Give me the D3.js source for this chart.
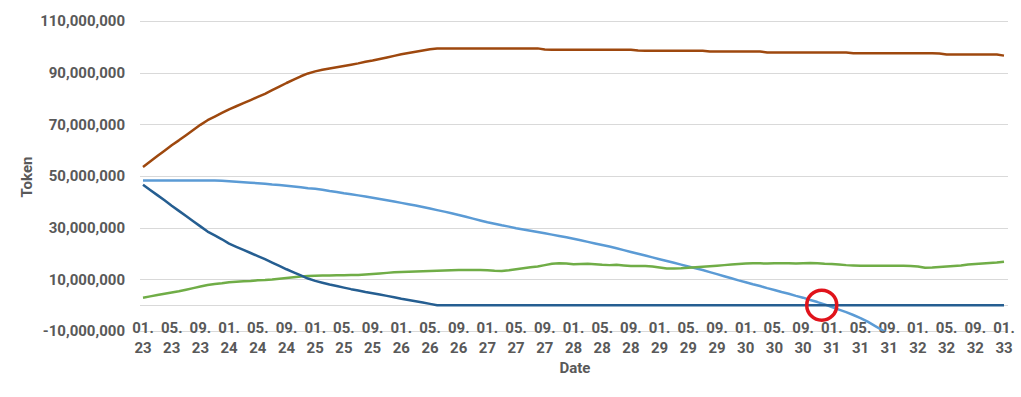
<!DOCTYPE html>
<html>
<head>
<meta charset="utf-8">
<script src="https://cdn.jsdelivr.net/npm/d3@7"></script>
<style>
  body { margin: 0; background: #fff; }
  svg { display: block; font-family: Roboto, "Liberation Sans", sans-serif; }
  .tick text { fill: #595959; font-weight: bold; font-size: 15px; font-family: Roboto, "Liberation Sans", sans-serif; }
</style>
</head>
<body>
<svg width="1021" height="397"></svg>
<script>
// monthly points, 01.2023 -> 01.2033 (values in millions of tokens)
var startMonth = new Date(2023, 0, 1);
var endMonth = new Date(2033, 1, 1);
var months = d3.timeMonth.range(startMonth, endMonth);

var yTicks = [-10e6, 10e6, 30e6, 50e6, 70e6, 90e6, 110e6];

var orangeSeries = [
  53.5, 55.6, 57.7, 59.8, 61.9, 63.8, 65.8, 67.8, 69.8, 71.6, 73.0, 74.4,
  75.8, 77.0, 78.2, 79.4, 80.6, 81.8, 83.2, 84.6, 86.0, 87.3, 88.6, 89.7,
  90.5, 91.1, 91.6, 92.1, 92.6, 93.1, 93.6, 94.2, 94.7, 95.3, 95.9, 96.5,
  97.1, 97.6, 98.1, 98.6, 99.1, 99.4, 99.4, 99.4, 99.4, 99.4, 99.4, 99.4,
  99.4, 99.4, 99.4, 99.4, 99.4, 99.4, 99.4, 99.4, 99.0, 98.9, 98.9, 98.9,
  98.9, 98.9, 98.9, 98.9, 98.9, 98.9, 98.9, 98.9, 98.9, 98.6, 98.5, 98.5,
  98.5, 98.5, 98.5, 98.5, 98.5, 98.5, 98.5, 98.2, 98.2, 98.2, 98.2, 98.2,
  98.2, 98.2, 98.2, 97.8, 97.8, 97.8, 97.8, 97.8, 97.8, 97.8, 97.8, 97.8,
  97.8, 97.8, 97.8, 97.5, 97.5, 97.5, 97.5, 97.5, 97.5, 97.5, 97.5, 97.5,
  97.5, 97.5, 97.5, 97.4, 97.0, 97.0, 97.0, 97.0, 97.0, 97.0, 97.0, 97.0,
  96.6
];

var lightBlueSeries = [
  48.3, 48.3, 48.3, 48.3, 48.3, 48.3, 48.3, 48.3, 48.3, 48.3, 48.3, 48.2,
  48.0, 47.8, 47.6, 47.4, 47.2, 47.0, 46.7, 46.5, 46.2, 45.9, 45.6, 45.3,
  45.1, 44.7, 44.2, 43.8, 43.3, 42.9, 42.5, 42.1, 41.6, 41.1, 40.6, 40.1,
  39.6, 39.1, 38.6, 38.0, 37.4, 36.8, 36.2, 35.6, 34.9, 34.2, 33.5, 32.8,
  32.1, 31.5, 30.9, 30.4, 29.8, 29.3, 28.8, 28.3, 27.8, 27.3, 26.8, 26.3,
  25.7, 25.1, 24.5, 23.9, 23.3, 22.7, 22.0, 21.3, 20.6, 19.9, 19.2, 18.5,
  17.8, 17.1, 16.4, 15.7, 15.0, 14.3, 13.6, 12.8, 12.0, 11.2, 10.4, 9.6,
  8.9, 8.1, 7.4, 6.6, 5.9, 5.1, 4.4, 3.6, 2.9, 2.0, 1.2, 0.3,
  -0.7, -1.7, -2.7, -3.8, -5.0, -6.4, -8.0, -9.6, -11.2, null, null, null,
  null, null, null, null, null, null, null, null, null, null, null, null,
  null
];

var darkBlueSeries = [
  46.6, 44.6, 42.6, 40.6, 38.5, 36.5, 34.5, 32.5, 30.5, 28.5, 27.0, 25.5,
  23.8, 22.6, 21.4, 20.2, 19.0, 17.8, 16.5, 15.2, 13.9, 12.7, 11.5, 10.3,
  9.4, 8.7, 8.0, 7.4, 6.8, 6.2, 5.7, 5.1, 4.6, 4.1, 3.6, 3.1,
  2.5, 2.0, 1.5, 1.0, 0.5, 0, 0, 0, 0, 0, 0, 0,
  0, 0, 0, 0, 0, 0, 0, 0, 0, 0, 0, 0,
  0, 0, 0, 0, 0, 0, 0, 0, 0, 0, 0, 0,
  0, 0, 0, 0, 0, 0, 0, 0, 0, 0, 0, 0,
  0, 0, 0, 0, 0, 0, 0, 0, 0, 0, 0, 0,
  0, 0, 0, 0, 0, 0, 0, 0, 0, 0, 0, 0,
  0, 0, 0, 0, 0, 0, 0, 0, 0, 0, 0, 0,
  0
];

var greenSeries = [
  2.9, 3.4, 3.9, 4.4, 4.9, 5.4, 6.0, 6.6, 7.2, 7.8, 8.2, 8.5,
  8.9, 9.1, 9.3, 9.4, 9.6, 9.7, 9.9, 10.2, 10.5, 10.8, 11.1, 11.3,
  11.4, 11.5, 11.5, 11.6, 11.6, 11.7, 11.7, 11.9, 12.1, 12.3, 12.5, 12.7,
  12.8, 12.9, 13.0, 13.1, 13.2, 13.3, 13.4, 13.5, 13.6, 13.6, 13.6, 13.6,
  13.5, 13.3, 13.2, 13.5, 13.9, 14.3, 14.7, 15.0, 15.5, 16.0, 16.2, 16.1,
  15.8, 15.9, 16.0, 15.8, 15.6, 15.5, 15.6, 15.4, 15.2, 15.2, 15.2, 15.0,
  14.6, 14.2, 14.2, 14.3, 14.5, 14.7, 14.9, 15.1, 15.3, 15.5, 15.7, 15.9,
  16.1, 16.2, 16.2, 16.1, 16.2, 16.2, 16.2, 16.1, 16.2, 16.3, 16.2, 16.0,
  15.9, 15.7, 15.5, 15.4, 15.3, 15.3, 15.3, 15.3, 15.3, 15.3, 15.3, 15.2,
  15.0, 14.5, 14.6, 14.8, 15.0, 15.2, 15.4, 15.7, 15.9, 16.1, 16.3, 16.5,
  16.8
];

var series = [
  { name: "orange", values: orangeSeries, color: "#9e480e" },
  { name: "lightBlue", values: lightBlueSeries, color: "#5b9bd5" },
  { name: "green", values: greenSeries, color: "#70ad47" },
  { name: "darkBlue", values: darkBlueSeries, color: "#255e91" }
];

// red marker where the light blue line crosses zero
var markerMonth = 94.6;

var svg = d3.select("svg");

var x = d3.scaleLinear().domain([0, months.length - 1]).range([143, 1004]);
var y = d3.scaleLinear().domain([-10e6, 110e6]).range([331, 21]);

svg.append("defs").append("clipPath")
  .attr("id", "plot-clip")
  .append("rect")
  .attr("x", 130).attr("y", 21)
  .attr("width", 890).attr("height", 310);

// gridlines (+ the horizontal axis line at zero)
svg.append("g")
  .attr("class", "grid")
  .selectAll("line")
  .data(yTicks.concat([0]))
  .enter()
  .append("line")
  .attr("x1", 140)
  .attr("x2", 1008)
  .attr("y1", d => Math.round(y(d)) + 0.5)
  .attr("y2", d => Math.round(y(d)) + 0.5)
  .attr("stroke", "#d9d9d9")
  .attr("stroke-width", 1);

// y axis labels
var yAxis = svg.append("g")
  .attr("transform", "translate(125,0)")
  .call(d3.axisLeft(y)
    .tickValues(yTicks)
    .tickSize(0)
    .tickPadding(0)
    .tickFormat(d => d3.format(",")(d).replace("\u2212", "-")));
yAxis.attr("font-family", null).attr("font-size", null);
yAxis.select(".domain").remove();

// x axis labels, every 4 months, two lines "MM." / "YY"
var xTicks = d3.range(0, months.length, 4);
var tick = svg.append("g")
  .attr("class", "xlabels")
  .selectAll("g")
  .data(xTicks)
  .enter()
  .append("g")
  .attr("class", "tick")
  .attr("transform", d => "translate(" + x(d) + ",0)");
tick.append("text")
  .attr("text-anchor", "middle")
  .attr("y", 333)
  .text(d => d3.timeFormat("%m.")(months[d]));
tick.append("text")
  .attr("text-anchor", "middle")
  .attr("y", 353)
  .text(d => d3.timeFormat("%y")(months[d]));

// axis titles
svg.append("text")
  .attr("transform", "translate(32,177) rotate(-90)")
  .attr("text-anchor", "middle")
  .attr("fill", "#595959")
  .attr("font-weight", "bold")
  .attr("font-size", "15px")
  .text("Token");

svg.append("text")
  .attr("x", 575)
  .attr("y", 373)
  .attr("text-anchor", "middle")
  .attr("fill", "#595959")
  .attr("font-weight", "bold")
  .attr("font-size", "15px")
  .text("Date");

// lines
var line = d3.line()
  .defined(d => d != null)
  .x((d, i) => x(i))
  .y(d => y(d * 1e6));

svg.append("g")
  .attr("clip-path", "url(#plot-clip)")
  .selectAll("path")
  .data(series)
  .enter()
  .append("path")
  .attr("d", d => line(d.values))
  .attr("fill", "none")
  .attr("stroke", d => d.color)
  .attr("stroke-width", 2.5)
  .attr("stroke-linejoin", "round");

svg.append("circle")
  .attr("cx", x(markerMonth))
  .attr("cy", y(0))
  .attr("r", 15)
  .attr("fill", "none")
  .attr("stroke", "#e0131b")
  .attr("stroke-width", 3.5);
</script>
</body>
</html>
